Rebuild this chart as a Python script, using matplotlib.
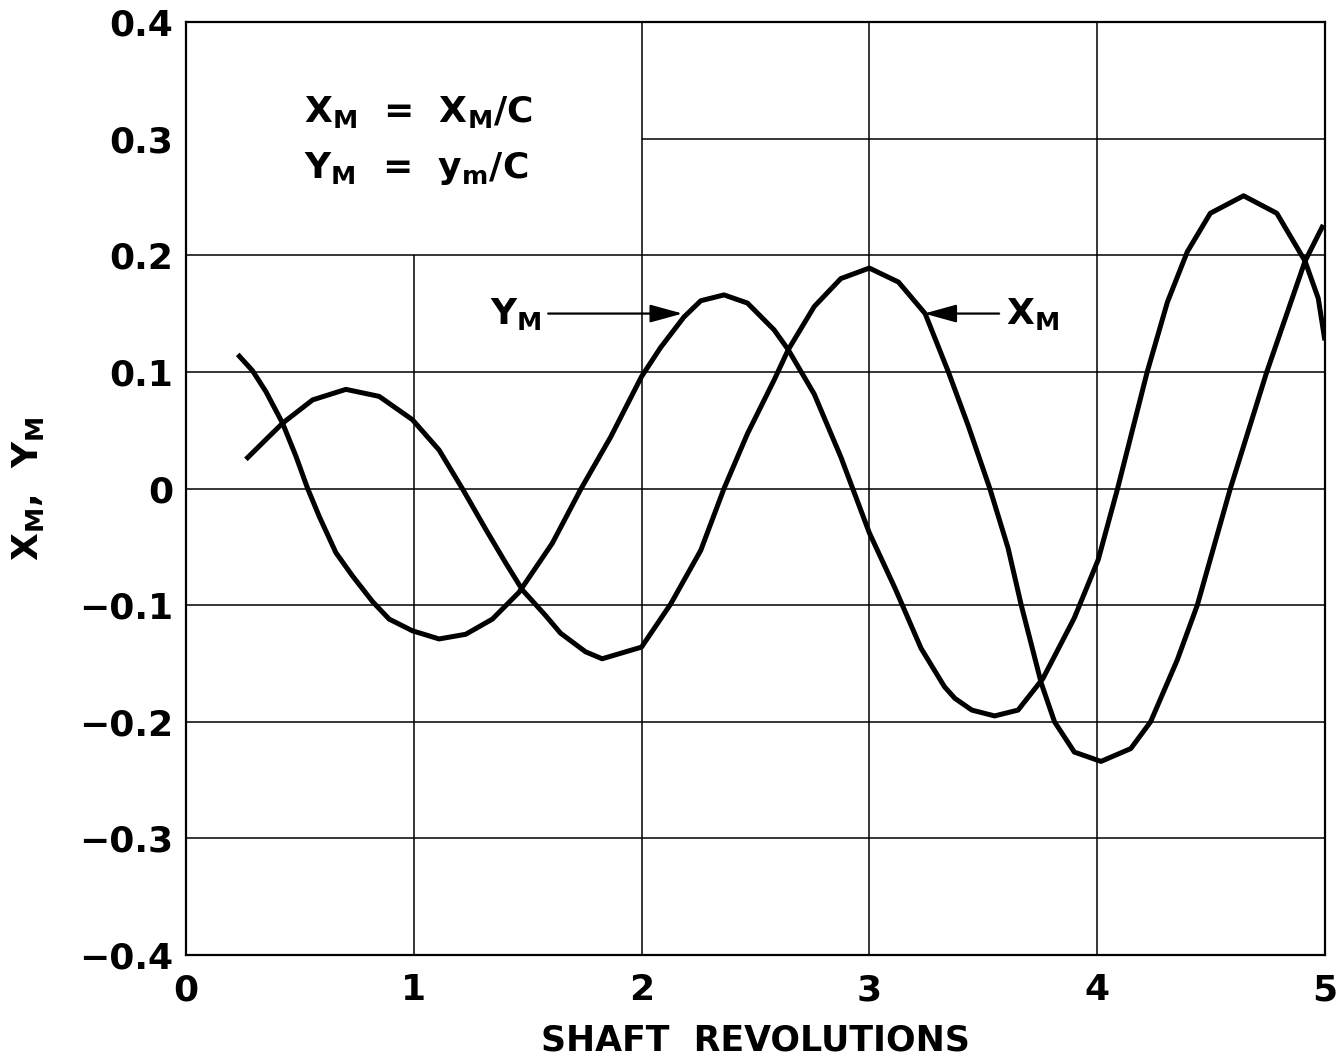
import matplotlib
matplotlib.use("Agg")
import matplotlib.pyplot as plt

# Y_M curve
ym_rev = [0.227, 0.292, 0.351, 0.424, 0.482, 0.534, 0.585, 0.658, 0.731, 0.819, 0.892, 0.994,
          1.111, 1.228, 1.345, 1.462, 1.608, 1.732, 1.864, 2.000, 2.084, 2.186, 2.260, 2.362,
          2.465, 2.582, 2.644, 2.758, 2.875, 3.000, 3.114, 3.227, 3.330, 3.376, 3.450, 3.550,
          3.653, 3.762, 3.900, 4.005, 4.090, 4.220, 4.309, 4.396, 4.497, 4.643, 4.789, 4.913,
          4.971, 5.000]
ym_val = [0.115, 0.101, 0.083, 0.056, 0.028, 0.000, -0.024, -0.055, -0.075, -0.097, -0.112, -0.122,
          -0.129, -0.125, -0.112, -0.089, -0.047, -0.001, 0.044, 0.096, 0.121, 0.147, 0.161, 0.166,
          0.159, 0.136, 0.119, 0.081, 0.027, -0.038, -0.086, -0.137, -0.170, -0.180, -0.190, -0.195,
          -0.190, -0.163, -0.111, -0.061, 0.000, 0.100, 0.160, 0.203, 0.236, 0.251, 0.236, 0.195,
          0.163, 0.127]

# X_M curve
xm_rev = [0.263, 0.351, 0.424, 0.556, 0.702, 0.848, 0.994, 1.111, 1.213, 1.316, 1.404, 1.477,
          1.579, 1.644, 1.754, 1.827, 2.000, 2.128, 2.260, 2.362, 2.465, 2.582, 2.644, 2.758,
          2.875, 3.000, 3.128, 3.245, 3.347, 3.434, 3.529, 3.609, 3.667, 3.755, 3.813, 3.900,
          4.017, 4.148, 4.235, 4.352, 4.440, 4.585, 4.745, 4.913, 4.993]
xm_val = [0.025, 0.042, 0.056, 0.076, 0.085, 0.079, 0.059, 0.033, 0.000, -0.035, -0.064, -0.087,
          -0.109, -0.124, -0.140, -0.146, -0.136, -0.099, -0.053, 0.000, 0.047, 0.093, 0.119, 0.156,
          0.180, 0.189, 0.177, 0.150, 0.100, 0.054, 0.000, -0.051, -0.100, -0.167, -0.200, -0.226,
          -0.234, -0.223, -0.200, -0.147, -0.100, 0.000, 0.100, 0.195, 0.226]

x_ticks = [0, 1, 2, 3, 4, 5]
x_labels = ["0", "1", "2", "3", "4", "5"]
y_ticks = [-0.4, -0.3, -0.2, -0.1, 0, 0.1, 0.2, 0.3, 0.4]
y_labels = ["\u22120.4", "\u22120.3", "\u22120.2", "\u22120.1", "0", "0.1", "0.2", "0.3", "0.4"]

plt.rcParams['font.family'] = ['DejaVu Sans']
plt.rcParams['font.weight'] = 'bold'
plt.rcParams['axes.labelweight'] = 'bold'
plt.rcParams['mathtext.fontset'] = 'custom'
plt.rcParams['mathtext.rm'] = 'DejaVu Sans:bold'
plt.rcParams['mathtext.it'] = 'DejaVu Sans:bold'
plt.rcParams['mathtext.default'] = 'rm'

fig = plt.figure(figsize=(13.43, 10.63), dpi=100)
ax = fig.add_axes([0.1385, 0.1016, 0.848, 0.8777])
ax.set_xlim(0, 5)
ax.set_ylim(-0.4, 0.4)

# grid, partly cut away where the legend box sits
gkw = dict(color='black', linewidth=1.1, zorder=1)
ax.vlines([2, 3, 4], -0.4, 0.4, **gkw)
ax.vlines(1, -0.4, 0.2, **gkw)
ax.hlines([-0.3, -0.2, -0.1, 0, 0.1, 0.2], 0, 5, **gkw)
ax.hlines(0.3, 2, 5, **gkw)

ax.plot(ym_rev, ym_val, color='black', linewidth=3.6, solid_capstyle='butt',
        solid_joinstyle='round', zorder=3)
ax.plot(xm_rev, xm_val, color='black', linewidth=3.6, solid_capstyle='butt',
        solid_joinstyle='round', zorder=3)

for s in ax.spines.values():
    s.set_linewidth(1.6)

ax.set_xticks(x_ticks)
ax.set_xticklabels(x_labels)
ax.set_yticks(y_ticks)
ax.set_yticklabels(y_labels)
ax.tick_params(length=0, labelsize=26)
ax.tick_params(axis='x', pad=13)
ax.tick_params(axis='y', pad=9)

ax.set_xlabel("SHAFT  REVOLUTIONS", fontsize=25, labelpad=12)
ax.set_ylabel("$X_M$,  $Y_M$", fontsize=26, labelpad=24)

# definitions
ax.text(0.52, 0.314, "$X_M$  =  $X_M/C$", fontsize=26, ha='left', va='baseline')
ax.text(0.52, 0.266, "$Y_M$  =  $y_m/C$", fontsize=26, ha='left', va='baseline')

# curve labels with arrows
akw = dict(arrowstyle='-|>,head_length=2.0,head_width=0.55', color='black',
           linewidth=1.6, shrinkA=0, shrinkB=0)
ax.text(1.56, 0.150, "$Y_M$", fontsize=26, ha='right', va='center')
ax.annotate('', xy=(2.18, 0.150), xytext=(1.59, 0.150), arrowprops=akw)
ax.text(3.60, 0.150, "$X_M$", fontsize=26, ha='left', va='center')
ax.annotate('', xy=(3.24, 0.150), xytext=(3.57, 0.150), arrowprops=akw)

fig.savefig("out.png", dpi=100)
